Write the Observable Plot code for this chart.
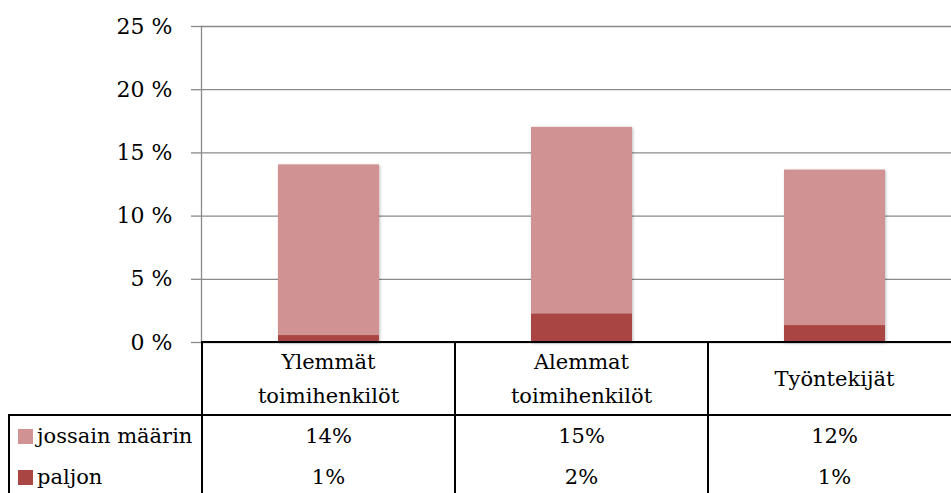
<!DOCTYPE html>
<html><head><meta charset="utf-8">
<script src="https://cdn.jsdelivr.net/npm/d3@7"></script>
<script src="https://cdn.jsdelivr.net/npm/@observablehq/plot@0.6"></script>
<style>
html,body{margin:0;padding:0;background:#fff;overflow:hidden}
#wrap{position:relative;width:951px;height:493px;overflow:hidden;font-family:"DejaVu Serif",serif;color:#000}
#wrap svg{position:absolute;left:0;top:0}
.ln{position:absolute;background:#000}
.txt{position:absolute;text-align:center;font-size:21px;line-height:34px;white-space:nowrap;transform:translate(-50%,-50%)}
.rh{position:absolute;font-size:21px;line-height:24px;white-space:nowrap;transform:translateY(-50%)}
.sw{position:absolute;width:15px;height:15px}
g[aria-label="bar"]{filter:drop-shadow(1px 1px 1.5px rgba(0,0,0,0.25))}
</style></head><body><div id="wrap"></div>
<script>
const categories = ["Ylemmät toimihenkilöt", "Alemmat toimihenkilöt", "Työntekijät"];
const series = ["paljon", "jossain määrin"];
const paljon = [0.55, 2.27, 1.34];
const jossain = [13.5, 14.75, 12.3];
const jossainLabels = ["14%", "15%", "12%"];
const paljonLabels = ["1%", "2%", "1%"];
const yTicks = [0, 5, 10, 15, 20, 25];
const colors = ["#A94543", "#D09292"];
const legendOrder = ["jossain määrin", "paljon"];

const data = [];
categories.forEach((c, i) => {
  data.push({cat: c, series: "paljon", value: paljon[i]});
  data.push({cat: c, series: "jossain määrin", value: jossain[i]});
});

const FONT = '"DejaVu Serif", serif';
const chart = Plot.plot({
  width: 951, height: 343,
  marginLeft: 201, marginRight: 0, marginTop: 26, marginBottom: 1,
  style: {fontFamily: FONT, fontSize: "22px", background: "transparent", overflow: "visible", color: "#000"},
  x: {domain: categories, range: [201, 962], paddingInner: 0.6, paddingOuter: 0.3, axis: null},
  y: {domain: [0, 25], ticks: yTicks},
  color: {domain: series, range: colors},
  marks: [
    Plot.gridY(yTicks, {stroke: "#8a8a8a", strokeOpacity: 1, strokeWidth: 1.3}),
    Plot.axisY(yTicks, {tickSize: 10, tickPadding: 19, tickFormat: d => d + " %", stroke: "#8a8a8a", strokeWidth: 1.3, fill: "#000", fontSize: 22, label: null}),
    Plot.frame({anchor: "left", stroke: "#8a8a8a", strokeWidth: 1.3}),
    Plot.barY(data, {x: "cat", y: "value", fill: "series", order: series})
  ]
});
const wrap = document.getElementById("wrap");
wrap.appendChild(chart);

const xs = chart.scale("x");
const ys = chart.scale("y");
const step = xs.step, bw = xs.bandwidth;
const y0 = ys.apply(0);
const rowLine = y0 + 73;
const rowY = [y0 + 94, y0 + 135];

function line(x, y, w, h) {
  const d = document.createElement("div");
  d.className = "ln";
  Object.assign(d.style, {left: x + "px", top: y + "px", width: w + "px", height: h + "px"});
  wrap.appendChild(d);
}
const colLeft = categories.map(c => xs.apply(c) + bw / 2 - step / 2);
const colCenter = categories.map(c => xs.apply(c) + bw / 2);

line(colLeft[0] - 1, y0 - 1, 951, 2);
line(8, rowLine - 1, 951, 2);
line(8, rowLine - 1, 2, 493);
colLeft.forEach(x => line(x - 1, y0 - 1, 2, 493));

function text(cls, x, y, html) {
  const d = document.createElement("div");
  d.className = cls;
  d.style.left = x + "px";
  d.style.top = y + "px";
  d.innerHTML = html;
  wrap.appendChild(d);
  return d;
}
categories.forEach((c, i) => {
  text("txt", colCenter[i], (y0 + rowLine) / 2, c.split(" ").join("<br>"));
  text("txt", colCenter[i], rowY[0], jossainLabels[i]);
  text("txt", colCenter[i], rowY[1], paljonLabels[i]);
});
legendOrder.forEach((s, k) => {
  const sw = document.createElement("div");
  sw.className = "sw";
  Object.assign(sw.style, {left: "18px", top: (rowY[k] - 7.5) + "px", background: colors[series.indexOf(s)]});
  wrap.appendChild(sw);
  text("rh", 37, rowY[k], s);
});
</script></body></html>
